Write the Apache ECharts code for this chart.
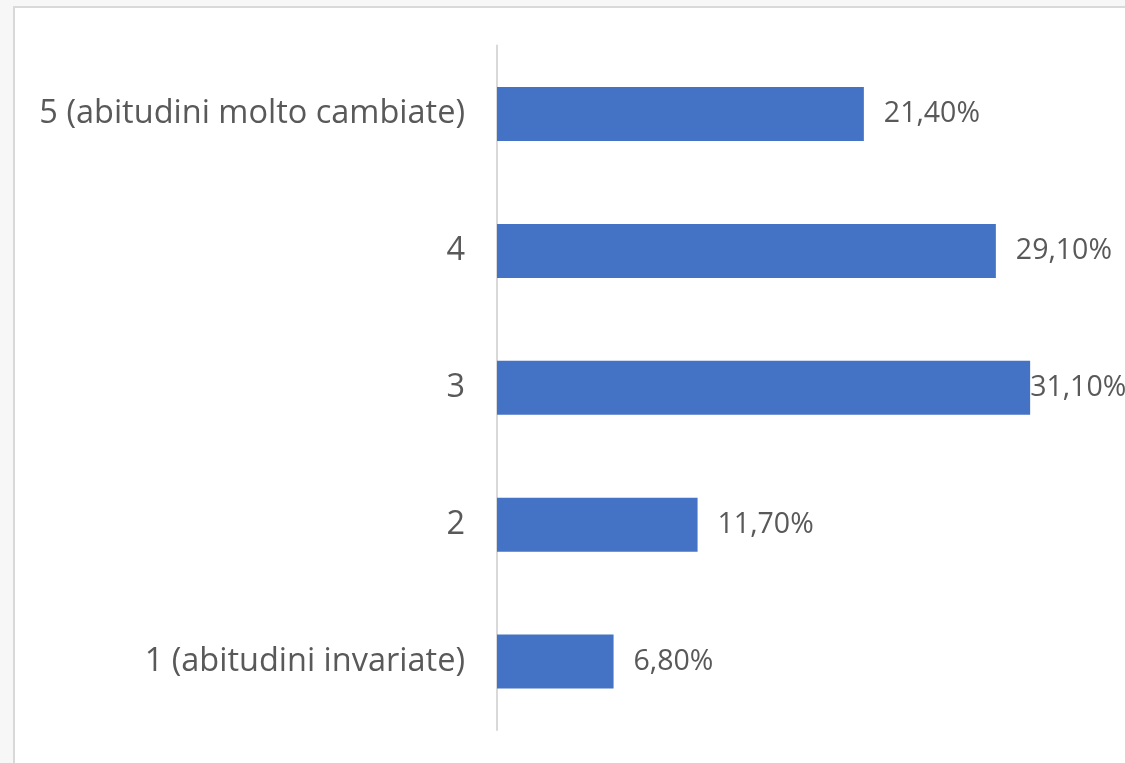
<!DOCTYPE html>
<html><head><meta charset="utf-8">
<script src="https://cdn.jsdelivr.net/npm/echarts@6/dist/echarts.min.js"></script>
<style>html,body{margin:0;padding:0;background:#f7f7f7}#c{width:1125px;height:763px}</style>
</head><body><div id="c"></div>
<script>
const categories = ['1 (abitudini invariate)', '2', '3', '4', '5 (abitudini molto cambiate)'];
const values = [6.8, 11.7, 31.1, 29.1, 21.4];
const labels = ['6,80%', '11,70%', '31,10%', '29,10%', '21,40%'];

// the longest bar's label sits flush against the bar end, as in the original
const maxVal = Math.max(...values);
const seriesData = values.map(v => v === maxVal ? { value: v, label: { distance: 0 } } : v);

const chart = echarts.init(document.getElementById('c'));
chart.setOption({
  animation: false,
  backgroundColor: 'transparent',
  graphic: [{
    type: 'rect', z: -10, silent: true,
    shape: { x: 14, y: 7, width: 1200, height: 800 },
    style: { fill: '#ffffff', stroke: '#d9d9d9', lineWidth: 2 }
  }],
  grid: { left: 497, top: 45.6, height: 684.4, width: 600, containLabel: false },
  xAxis: { type: 'value', min: 0, max: 35, show: false },
  yAxis: {
    type: 'category', data: categories,
    axisLine: { show: true, lineStyle: { color: '#d9d9d9', width: 2 } },
    axisTick: { show: false },
    axisLabel: { color: '#595959', fontSize: 32.5, fontFamily: 'Open Sans', margin: 32 }
  },
  series: [{
    type: 'bar', data: seriesData, barWidth: '39.5%',
    itemStyle: { color: '#4472C4' },
    label: {
      show: true, position: 'right', distance: 20,
      color: '#595959', fontSize: 28.5, fontFamily: 'Open Sans',
      formatter: p => labels[p.dataIndex]
    }
  }]
});
</script></body></html>
